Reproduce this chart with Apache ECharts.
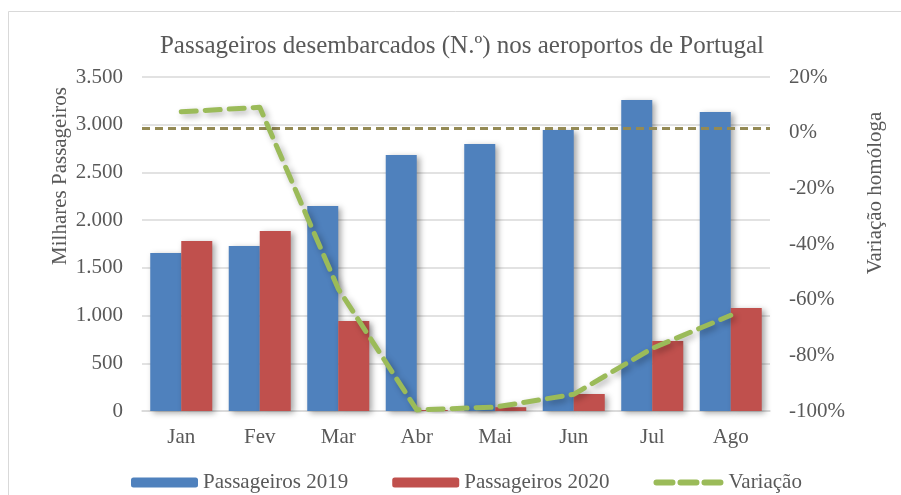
<!DOCTYPE html>
<html>
<head>
<meta charset="utf-8">
<script src="https://cdn.jsdelivr.net/npm/echarts@6/dist/echarts.min.js"></script>
<style>
  html, body { margin: 0; padding: 0; background: #fff; }
  #chart { width: 901px; height: 495px; }
</style>
</head>
<body>
<div id="chart"></div>
<script>
// dados (milhares de passageiros)
const months = ["Jan", "Fev", "Mar", "Abr", "Mai", "Jun", "Jul", "Ago"];
const pax2019 = [1656, 1729, 2148, 2683, 2798, 2945, 3259, 3133];
const pax2020 = [1781, 1886, 943, 10, 40, 178, 734, 1079];
const variacao = [7.5, 9.1, -56.1, -99.6, -98.6, -94.0, -77.5, -65.6]; // %
const refLine = 1.6; // linha tracejada de referência (%)

const font = "Liberation Serif";
const grey = "#595959";

const chart = echarts.init(document.getElementById("chart"));

function fmtThousands(v) {
  return String(v).replace(/\B(?=(\d{3})+(?!\d))/g, ".");
}

const barShadow = {
  shadowColor: "rgba(0,0,0,0.35)",
  shadowBlur: 6,
  shadowOffsetX: 3,
  shadowOffsetY: 2,
};

const option = {
  backgroundColor: "#fff",
  animation: false,
  textStyle: { fontFamily: font, color: grey },
  title: {
    text: "Passageiros desembarcados (N.º) nos aeroportos de Portugal",
    left: 457,
    textAlign: "center",
    top: 29,
    textStyle: { fontFamily: font, fontSize: 25, fontWeight: "normal", color: grey },
  },
  grid: { left: 142, right: 131, top: 77, bottom: 84 },
  legend: {
    left: 126,
    top: 467,
    itemWidth: 67,
    itemHeight: 10,
    itemGap: 44,
    textStyle: { fontFamily: font, fontSize: 21, color: grey },
    data: [
      "Passageiros 2019",
      "Passageiros 2020",
      {
        name: "Variação",
        itemStyle: { opacity: 0 },
        lineStyle: { type: [16, 8], width: 6, cap: "round", shadowBlur: 0, shadowOffsetX: 0, shadowOffsetY: 0 },
      },
    ],
  },
  //moldura e títulos dos eixos
  graphic: [
    {
      type: "rect",
      shape: { x: 8.5, y: 11.5, width: 1000, height: 600 },
      style: { fill: "none", stroke: "#d9d9d9", lineWidth: 1 },
      silent: true,
      z: -1,
    },
    {
      type: "text",
      x: 60,
      y: 176,
      rotation: Math.PI / 2,
      style: {
        text: "Milhares Passageiros",
        fontFamily: font,
        fontSize: 21,
        fill: grey,
        align: "center",
        verticalAlign: "middle",
      },
    },
    {
      type: "text",
      x: 875,
      y: 193,
      rotation: Math.PI / 2,
      style: {
        text: "Variação homóloga",
        fontFamily: font,
        fontSize: 21,
        fill: grey,
        align: "center",
        verticalAlign: "middle",
      },
    },
  ],
  xAxis: {
    type: "category",
    data: months,
    axisLine: { show: true, lineStyle: { color: "#d9d9d9", width: 1.5 } },
    axisTick: { show: false },
    axisLabel: { fontFamily: font, fontSize: 21, color: grey, margin: 16 },
  },
  yAxis: [
    {
      type: "value",
      min: 0,
      max: 3500,
      interval: 500,
      axisLine: { show: false },
      axisTick: { show: false },
      splitLine: { lineStyle: { color: "#d9d9d9", width: 1.5 } },
      axisLabel: {
        fontFamily: font,
        fontSize: 21,
        color: grey,
        margin: 19,
        formatter: fmtThousands,
      },
    },
    {
      type: "value",
      min: -100,
      max: 20,
      interval: 20,
      axisLine: { show: false },
      axisTick: { show: false },
      splitLine: { show: false },
      axisLabel: {
        fontFamily: font,
        fontSize: 21,
        color: grey,
        margin: 19,
        formatter: "{value}%",
      },
    },
  ],
  series: [
    {
      name: "Passageiros 2019",
      type: "bar",
      data: pax2019,
      barGap: "0%",
      barCategoryGap: "21%",
      itemStyle: Object.assign({ color: "#4F81BD" }, barShadow),
    },
    {
      name: "Passageiros 2020",
      type: "bar",
      data: pax2020,
      itemStyle: Object.assign({ color: "#C0504D" }, barShadow),
    },
    {
      name: "Variação",
      type: "line",
      yAxisIndex: 1,
      data: variacao,
      symbol: "none",
      z: 5,
      lineStyle: {
        color: "#9BBB59",
        width: 5,
        type: [15, 9],
        cap: "round",
        join: "round",
        shadowColor: "rgba(0,0,0,0.3)",
        shadowBlur: 6,
        shadowOffsetX: 3,
        shadowOffsetY: 3,
      },
      itemStyle: { color: "#9BBB59" },
      markLine: {
        silent: true,
        symbol: "none",
        label: { show: false },
        lineStyle: { color: "#948A54", width: 3, type: [8, 5] },
        data: [{ yAxis: refLine }],
      },
    },
  ],
};

chart.setOption(option);
</script>
</body>
</html>
